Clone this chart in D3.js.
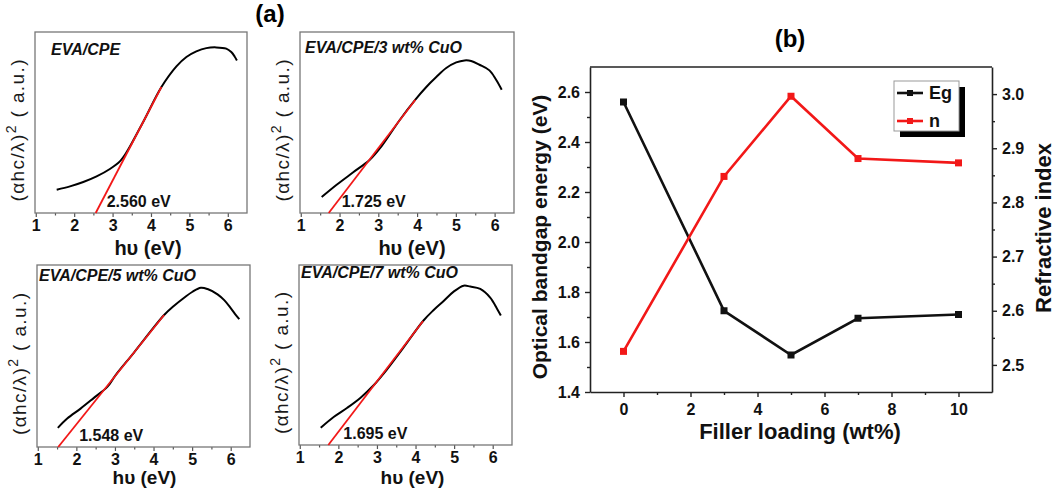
<!DOCTYPE html>
<html>
<head>
<meta charset="utf-8">
<script src="https://cdn.jsdelivr.net/npm/d3@7"></script>
<style>
body { margin: 0; background: #fff; }
text { font-family: "Liberation Sans", Arial, sans-serif; }
</style>
</head>
<body>
<svg id="fig" width="1059" height="491"></svg>
<script>
// ---- panel (a): Tauc plots, arbitrary units (0 = axis, 1 = top of frame)
const sampleNames = ['EVA/CPE', 'EVA/CPE/3 wt% CuO', 'EVA/CPE/5 wt% CuO', 'EVA/CPE/7 wt% CuO'];
const gapText = ['2.560 eV', '1.725 eV', '1.548 eV', '1.695 eV'];

const hv0 = [1.545, 1.891, 2.237, 2.584, 2.930, 3.190, 3.363, 3.796, 4.272, 4.662, 4.922, 5.181, 5.441, 5.700, 5.960, 6.091, 6.177, 6.237];
const tauc0 = [0.129, 0.147, 0.171, 0.202, 0.243, 0.285, 0.335, 0.503, 0.696, 0.810, 0.862, 0.893, 0.911, 0.915, 0.908, 0.889, 0.865, 0.843];

const hv3 = [1.539, 1.925, 2.353, 2.781, 3.081, 3.553, 3.956, 4.238, 4.495, 4.752, 5.010, 5.224, 5.395, 5.609, 5.866, 6.038, 6.183];
const tauc3 = [0.088, 0.156, 0.225, 0.294, 0.368, 0.514, 0.626, 0.696, 0.751, 0.801, 0.832, 0.843, 0.840, 0.819, 0.788, 0.736, 0.681];

const hv5 = [1.520, 1.763, 2.109, 2.455, 2.802, 3.018, 3.494, 4.274, 4.533, 4.793, 5.010, 5.226, 5.399, 5.659, 5.832, 6.005, 6.135, 6.222];
const tauc5 = [0.105, 0.156, 0.211, 0.270, 0.330, 0.395, 0.519, 0.725, 0.776, 0.820, 0.853, 0.875, 0.868, 0.839, 0.807, 0.762, 0.725, 0.703];

const hv7 = [1.543, 1.887, 2.232, 2.576, 2.921, 3.179, 3.700, 4.196, 4.471, 4.729, 4.988, 5.246, 5.419, 5.677, 5.935, 6.108, 6.211];
const tauc7 = [0.096, 0.157, 0.207, 0.263, 0.333, 0.398, 0.545, 0.689, 0.750, 0.800, 0.852, 0.885, 0.880, 0.867, 0.819, 0.759, 0.719];

// linear fit segments (extrapolated to the energy axis)
const fitX = [[2.56, 4.272], [1.72, 3.956], [1.53, 4.274], [1.74, 4.196]];
const fitY = [[0, 0.696], [0, 0.626], [0, 0.725], [0, 0.689]];

const hvTicks = [1, 2, 3, 4, 5, 6];
const hvMinor = [1.5, 2.5, 3.5, 4.5, 5.5, 6.5];

// ---- panel (b)
const loading = [0, 3, 5, 7, 10];
const bandgap = [2.56, 1.725, 1.548, 1.695, 1.71];
const refIndex = [2.525, 2.848, 2.996, 2.881, 2.873];
const loadTicks = [0, 2, 4, 6, 8, 10];
const loadMinor = [-1, 1, 3, 5, 7, 9, 11];
const gapTicks = [1.4, 1.6, 1.8, 2.0, 2.2, 2.4, 2.6];
const gapMinor = [1.5, 1.7, 1.9, 2.1, 2.3, 2.5, 2.7];
const nTicks = [2.5, 2.6, 2.7, 2.8, 2.9, 3.0];
const nMinor = [2.55, 2.65, 2.75, 2.85, 2.95, 3.05];

const RED = '#f21818';
const svg = d3.select('#fig');

// ================= panel (a) =================
const curves = [[hv0, tauc0], [hv3, tauc3], [hv5, tauc5], [hv7, tauc7]];
const cells = [
  {l: 35, t: 32, w: 212, h: 181, nameDx: 16, nameDy: 23, gapDx: 11, labDx: 7, labDy: 42, labFs: 20},
  {l: 300, t: 32, w: 214, h: 181, nameDx: 5, nameDy: 21, gapDx: 13, labDx: 5, labDy: 42, labFs: 20},
  {l: 37, t: 265, w: 213, h: 182, nameDx: 2, nameDy: 16, gapDx: 21, labDx: 1, labDy: 37, labFs: 19},
  {l: 299, t: 265, w: 213, h: 180, nameDx: 2, nameDy: 13, gapDx: 15, labDx: 7, labDy: 39, labFs: 19}
];

svg.append('text').attr('x', 270).attr('y', 22).attr('text-anchor', 'middle')
  .attr('font-size', 24).attr('font-weight', 'bold').text('(a)');

cells.forEach(function (c, i) {
  let g = svg.append('g').attr('transform', `translate(${c.l},${c.t})`);
  let x = d3.scaleLinear().domain([0.98, 6.5]).range([0, c.w]);
  let y = d3.scaleLinear().domain([0, 1]).range([c.h, 0]);

  let ax = g.append('g').attr('transform', `translate(0,${c.h})`)
    .call(d3.axisBottom(x).tickValues(hvTicks).tickSize(4).tickSizeOuter(0).tickPadding(3).tickFormat(d3.format('d')));
  ax.select('.domain').remove();
  ax.selectAll('line').attr('stroke', '#555').attr('stroke-width', 1.2);
  ax.selectAll('text').attr('font-size', 16).attr('font-weight', 'bold')
    .attr('font-family', '"Liberation Sans", Arial, sans-serif').attr('fill', '#111');

  let mn = g.append('g').attr('transform', `translate(0,${c.h})`)
    .call(d3.axisBottom(x).tickValues(hvMinor.filter(v => v < 6.49)).tickSize(2.5).tickFormat(''));
  mn.select('.domain').remove();
  mn.selectAll('line').attr('stroke', '#555').attr('stroke-width', 1.2);

  g.append('rect').attr('width', c.w).attr('height', c.h)
    .attr('fill', 'none').attr('stroke', '#777').attr('stroke-width', 1.3);

  let pts = curves[i][0].map((v, k) => [v, curves[i][1][k]]);
  g.append('path').datum(pts)
    .attr('d', d3.line().x(d => x(d[0])).y(d => y(d[1])).curve(d3.curveCatmullRom.alpha(0.5)))
    .attr('fill', 'none').attr('stroke', '#000').attr('stroke-width', 2);

  let fit = fitX[i].map((v, k) => [v, fitY[i][k]]);
  g.append('path').datum(fit)
    .attr('d', d3.line().x(d => x(d[0])).y(d => y(d[1])))
    .attr('fill', 'none').attr('stroke', RED).attr('stroke-width', 1.8);

  g.append('text').attr('x', c.nameDx).attr('y', c.nameDy)
    .attr('font-size', 16).attr('font-weight', 'bold').attr('font-style', 'italic')
    .attr('fill', '#111').text(sampleNames[i]);

  g.append('text').attr('x', x(fitX[i][0]) + c.gapDx).attr('y', c.h - 6)
    .attr('font-size', 16).attr('font-weight', 'bold').attr('fill', '#111').text(gapText[i]);

  g.append('text').attr('x', c.w / 2 + c.labDx).attr('y', c.h + c.labDy).attr('text-anchor', 'middle')
    .attr('font-size', c.labFs).attr('font-weight', 'bold').attr('fill', '#111').text('h\u03C5 (eV)');

  let yl = g.append('text')
    .attr('transform', `translate(-11,${c.h / 2 + 8}) rotate(-90)`)
    .attr('text-anchor', 'middle').attr('font-size', 19).attr('fill', '#1a1a1a')
    .attr('textLength', 142).attr('lengthAdjust', 'spacing');
  yl.append('tspan').text('(\u03B1hc/\u03BB)');
  yl.append('tspan').attr('dy', -8).attr('font-size', 14).text('2');
  yl.append('tspan').attr('dy', 8).text(' ( a.u.)');
});

// ================= panel (b) =================
const B = {l: 590, r: 992, t: 67, b: 392};
const xB = d3.scaleLinear().domain([-1, 11]).range([B.l, B.r]);
const yE = d3.scaleLinear().domain([1.4, 2.7]).range([B.b, B.t]);
const yN = d3.scaleLinear().domain([2.45, 3.05]).range([B.b, B.t]);

svg.append('text').attr('x', 790).attr('y', 47).attr('text-anchor', 'middle')
  .attr('font-size', 24).attr('font-weight', 'bold').text('(b)');

function styleAxis(sel, size) {
  sel.selectAll('line').attr('stroke', '#222').attr('stroke-width', 1.4);
  sel.select('.domain').attr('stroke', '#222').attr('stroke-width', 1.6);
  sel.selectAll('text').attr('font-size', size).attr('font-weight', 'bold')
    .attr('font-family', '"Liberation Sans", Arial, sans-serif').attr('fill', '#111');
}

let gx = svg.append('g').attr('transform', `translate(0,${B.b})`)
  .call(d3.axisBottom(xB).tickValues(loadTicks).tickSize(5).tickSizeOuter(0).tickPadding(7).tickFormat(d3.format('d')));
styleAxis(gx, 16);
let gxm = svg.append('g').attr('transform', `translate(0,${B.b})`)
  .call(d3.axisBottom(xB).tickValues(loadMinor.filter(v => v > -1 && v < 11)).tickSize(3).tickFormat(''));
styleAxis(gxm, 16); gxm.select('.domain').remove();

let gl = svg.append('g').attr('transform', `translate(${B.l},0)`)
  .call(d3.axisLeft(yE).tickValues(gapTicks).tickSize(5).tickSizeOuter(0).tickPadding(5).tickFormat(d3.format('.1f')));
styleAxis(gl, 16);
let glm = svg.append('g').attr('transform', `translate(${B.l},0)`)
  .call(d3.axisLeft(yE).tickValues(gapMinor.filter(v => v < 2.69)).tickSize(3).tickFormat(''));
styleAxis(glm, 16); glm.select('.domain').remove();

let gr = svg.append('g').attr('transform', `translate(${B.r},0)`)
  .call(d3.axisRight(yN).tickValues(nTicks).tickSize(5).tickSizeOuter(0).tickPadding(5).tickFormat(d3.format('.1f')));
styleAxis(gr, 16);
let grm = svg.append('g').attr('transform', `translate(${B.r},0)`)
  .call(d3.axisRight(yN).tickValues(nMinor.filter(v => v < 3.04)).tickSize(3).tickFormat(''));
styleAxis(grm, 16); grm.select('.domain').remove();

svg.append('line').attr('x1', B.l).attr('x2', B.r).attr('y1', B.t).attr('y2', B.t)
  .attr('stroke', '#222').attr('stroke-width', 1.6);

// series
const egPts = loading.map((v, k) => [v, bandgap[k]]);
const nPts = loading.map((v, k) => [v, refIndex[k]]);

svg.append('path').datum(egPts)
  .attr('d', d3.line().x(d => xB(d[0])).y(d => yE(d[1])))
  .attr('fill', 'none').attr('stroke', '#111').attr('stroke-width', 2.6);
svg.append('path').datum(nPts)
  .attr('d', d3.line().x(d => xB(d[0])).y(d => yN(d[1])))
  .attr('fill', 'none').attr('stroke', RED).attr('stroke-width', 2.6);

svg.selectAll('rect.eg').data(egPts).enter().append('rect').attr('class', 'eg')
  .attr('x', d => xB(d[0]) - 3.5).attr('y', d => yE(d[1]) - 3.5)
  .attr('width', 7).attr('height', 7).attr('fill', '#111');
svg.selectAll('rect.n').data(nPts).enter().append('rect').attr('class', 'n')
  .attr('x', d => xB(d[0]) - 3.5).attr('y', d => yN(d[1]) - 3.5)
  .attr('width', 7).attr('height', 7).attr('fill', RED);

// legend
const lg = svg.append('g').attr('transform', 'translate(894,81)');
lg.append('rect').attr('x', 6).attr('y', 6).attr('width', 65).attr('height', 50).attr('fill', '#000');
lg.append('rect').attr('width', 65).attr('height', 50).attr('fill', '#fff').attr('stroke', '#999').attr('stroke-width', 1);
[['Eg', '#111', 12], ['n', RED, 40]].forEach(function (it) {
  lg.append('line').attr('x1', 3).attr('x2', 29).attr('y1', it[2]).attr('y2', it[2])
    .attr('stroke', it[1]).attr('stroke-width', 2.6);
  lg.append('rect').attr('x', 13).attr('y', it[2] - 3).attr('width', 6).attr('height', 6).attr('fill', it[1]);
  lg.append('text').attr('x', 35).attr('y', it[2] + 6).attr('font-size', 18).attr('font-weight', 'bold')
    .attr('fill', '#111').text(it[0]);
});

// axis titles
svg.append('text').attr('x', 800).attr('y', 439).attr('text-anchor', 'middle')
  .attr('font-size', 22).attr('font-weight', 'bold').attr('fill', '#111').text('Filler loading (wt%)');
svg.append('text').attr('transform', 'translate(547,237) rotate(-90)').attr('text-anchor', 'middle')
  .attr('font-size', 21).attr('font-weight', 'bold').attr('fill', '#111').text('Optical bandgap energy (eV)');
svg.append('text').attr('transform', 'translate(1051,228) rotate(-90)').attr('text-anchor', 'middle')
  .attr('font-size', 22).attr('font-weight', 'bold').attr('fill', '#111').text('Refractive index');
</script>
</body>
</html>
